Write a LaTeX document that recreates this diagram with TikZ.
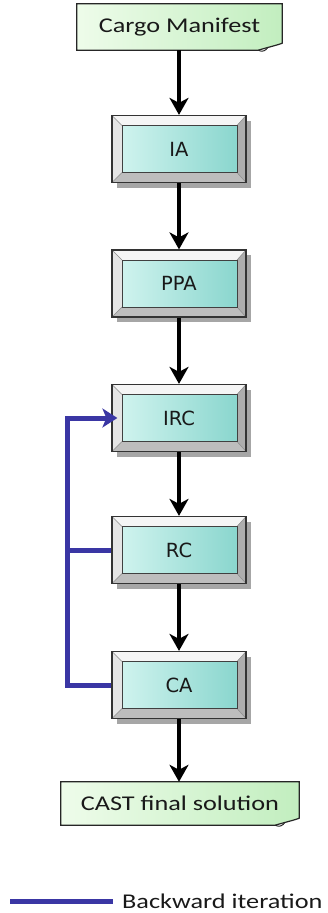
\documentclass[tikz,border=0pt]{standalone}
\usepackage{fontspec}
\setmainfont{Carlito}
\newfontfamily\docfont[FakeStretch=1.25]{Carlito}
\newfontfamily\boxfont{DejaVu Sans}
\usetikzlibrary{arrows.meta,shadows,backgrounds,calc}

\definecolor{tealA}{HTML}{CFF3EE}
\definecolor{tealB}{HTML}{8AD6CE}
\definecolor{docA}{HTML}{EEFCEA}
\definecolor{docB}{HTML}{C2EEBF}
\definecolor{loopblue}{HTML}{3A36A4}

\tikzset{
  bevelbox/.style={
    draw=black!80, line width=1.2pt, inner sep=0pt,
    minimum width=134pt, minimum height=67pt,
    font=\boxfont\fontsize{19.5}{23}\selectfont, text=black!90,
    drop shadow={shadow xshift=5pt, shadow yshift=-5pt, fill=black!50, opacity=.7},
    path picture={
      \coordinate (o1) at (path picture bounding box.north west);
      \coordinate (o2) at (path picture bounding box.north east);
      \coordinate (o3) at (path picture bounding box.south east);
      \coordinate (o4) at (path picture bounding box.south west);
      \coordinate (i1) at ([shift={(10pt,-10pt)}]o1);
      \coordinate (i2) at ([shift={(-9pt,-10pt)}]o2);
      \coordinate (i3) at ([shift={(-9pt,10pt)}]o3);
      \coordinate (i4) at ([shift={(10pt,10pt)}]o4);
      % bevel faces
      \fill[white!96!black] (o1) -- (o2) -- (i2) -- (i1) -- cycle;
      \fill[black!10] (o1) -- (o4) -- (i4) -- (i1) -- cycle;
      \fill[black!32] (o2) -- (o3) -- (i3) -- (i2) -- cycle;
      \fill[black!26] (o4) -- (o3) -- (i3) -- (i4) -- cycle;
      \draw[black!45, line width=.5pt] (o1) -- (i1) (o2) -- (i2) (o3) -- (i3) (o4) -- (i4);
      % inner panel
      \shade[left color=tealA, right color=tealB] (i1) rectangle (i3);
      \draw[black!75, line width=1pt] (i1) rectangle (i3);
    }
  },
  doclabel/.style={inner sep=0pt, font=\docfont\fontsize{21}{25}\selectfont, text=black!90},
  docshape/.style={draw=black!85, line width=1.2pt, left color=docA, right color=docB},
  flow/.style={line width=4pt, -{Stealth[length=17pt,width=19pt,inset=5pt]}},
  backflow/.style={line width=5pt, draw=loopblue},
}

% document symbol with a curled lower right corner, drawn behind node #1
\newcommand{\docoutline}[1]{%
  \begin{scope}[on background layer]
    \path[docshape]
      (#1.north west) -- (#1.north east) -- ([yshift=7pt]#1.south east)
      .. controls ([shift={(-5pt,5pt)}]#1.south east) and ([shift={(-14pt,3pt)}]#1.south east)
      .. ([shift={(-24pt,0pt)}]#1.south east) -- (#1.south west) -- cycle;
    \draw[black!85, line width=1pt] ([shift={(-24pt,0pt)}]#1.south east)
      .. controls ([shift={(-20pt,-2pt)}]#1.south east) and ([shift={(-17pt,-1pt)}]#1.south east)
      .. ([shift={(-14pt,3pt)}]#1.south east);
  \end{scope}}

\begin{document}
\begin{tikzpicture}[x=1pt, y=-1pt]
  \path[use as bounding box] (0,0) rectangle (328,913);

  % start and end documents
  \node[doclabel, minimum width=205pt, minimum height=46pt] (cm) at (179.5,27) {Cargo Manifest};
  \docoutline{cm}
  \node[doclabel, minimum width=238pt, minimum height=43pt] (cast) at (180,803.5) {CAST final solution};
  \docoutline{cast}

  % processing stages
  \node[bevelbox] (ia)  at (179,149)   {IA};
  \node[bevelbox] (ppa) at (179,283.5) {PPA};
  \node[bevelbox] (irc) at (179,418)   {IRC};
  \node[bevelbox] (rc)  at (179,550)   {RC};
  \node[bevelbox] (ca)  at (179,685)   {CA};

  % forward flow
  \draw[flow] (cm.south -| ia.north) -- (ia.north);
  \draw[flow] (ia) -- (ppa);
  \draw[flow] (ppa) -- (irc);
  \draw[flow] (irc) -- (rc);
  \draw[flow] (rc) -- (ca);
  \draw[flow] (ca.south) -- (ca.south |- cast.north);

  % backward iteration loop
  \draw[backflow, -{Stealth[length=15pt,width=19pt,inset=4pt]}, shorten >=-6pt]
    (ca.west) -- ++(-44,0) coordinate (lb) |- (irc.west);
  \draw[backflow] (rc.west) -- (rc.west -| lb);

  % legend
  \coordinate (l1) at (10,901);
  \coordinate (l2) at (113,901);
  \draw[backflow] (l1) -- (l2);
  \node[doclabel, anchor=west] (leg) at (122,901) {Backward iteration};
\end{tikzpicture}
\end{document}
